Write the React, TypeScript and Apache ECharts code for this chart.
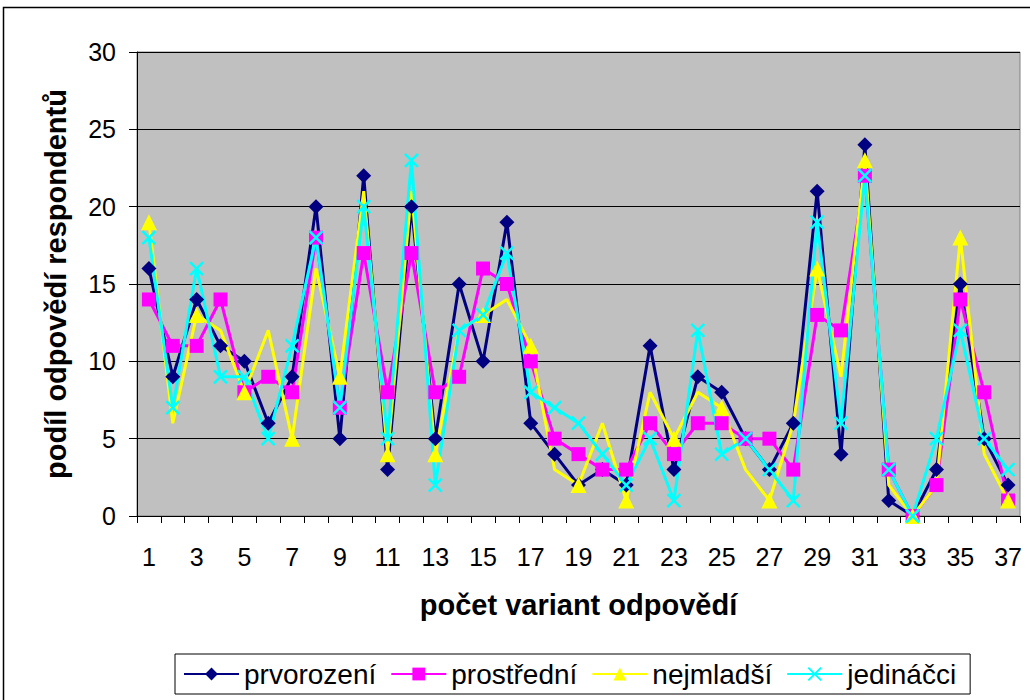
import React, { useEffect, useRef } from "react";
import * as echarts from "echarts";

const categories = Array.from({ length: 37 }, (_, i) => String(i + 1));
const prvorozeni = [16, 9, 14, 11, 10, 6, 9, 20, 5, 22, 3, 20, 5, 15, 10, 19, 6, 4, 2, 3, 2, 11, 3, 9, 8, 5, 3, 6, 21, 4, 24, 1, 0, 3, 15, 5, 2];
const prostredni = [14, 11, 11, 14, 8, 9, 8, 18, 7, 17, 8, 17, 8, 9, 16, 15, 10, 5, 4, 3, 3, 6, 4, 6, 6, 5, 5, 3, 13, 12, 22, 3, 0, 2, 14, 8, 1];
const nejmladsi = [19, 6, 13, 12, 8, 12, 5, 16, 9, 21, 4, 21, 4, 12, 13, 14, 11, 3, 2, 6, 1, 8, 5, 8, 7, 3, 1, 6, 16, 9, 23, 2, 0, 2, 18, 4, 1];
const jedinacci = [18, 7, 16, 9, 9, 5, 11, 18, 7, 20, 5, 23, 2, 12, 13, 17, 8, 7, 6, 4, 2, 5, 1, 12, 4, 5, 3, 1, 19, 6, 22, 3, 0, 5, 12, 5, 3];
const seriesNames = ["prvorození", "prostřední", "nejmladší", "jedináčci"];
const yTicks = [0, 5, 10, 15, 20, 25, 30];

const FONT = "Liberation Sans, Arial, sans-serif";

export default function App() {
  const ref = useRef<HTMLDivElement>(null);
  useEffect(() => {
    if (!ref.current) return;
    const chart = echarts.init(ref.current, null, { renderer: "svg" });
    const crossPath = "path://M0,0 L10,10 M10,0 L0,10";
    const mk = (name: string, data: number[], color: string, symbol: string, size: number, extra: any = {}) => ({
      name,
      type: "line",
      data,
      symbol,
      symbolSize: size,
      lineStyle: { color, width: 3 },
      itemStyle: { color, ...extra },
      emphasis: { disabled: true },
    });
    chart.setOption({
      animation: false,
      textStyle: { fontFamily: FONT },
      graphic: [
        {
          type: "rect",
          shape: { x: 3.5, y: 7.5, width: 1040, height: 700 },
          style: { fill: "none", stroke: "#000", lineWidth: 1.5 },
          silent: true,
        },
      ],
      grid: {
        left: 137,
        right: 10,
        top: 52,
        bottom: 184,
        show: true,
        backgroundColor: "#C0C0C0",
        borderColor: "#808080",
        borderWidth: 1,
      },
      xAxis: {
        type: "category",
        data: categories,
        boundaryGap: true,
        name: "počet variant odpovědí",
        nameLocation: "middle",
        nameGap: 74,
        nameTextStyle: { fontSize: 29, fontWeight: "bold", color: "#000", fontFamily: FONT },
        axisLine: { lineStyle: { color: "#000", width: 1 } },
        axisTick: { show: true, interval: 0, length: 7, lineStyle: { color: "#000" } },
        axisLabel: { interval: 1, fontSize: 25, color: "#000", margin: 28, fontFamily: FONT },
        splitLine: { show: false },
      },
      yAxis: {
        type: "value",
        min: yTicks[0],
        max: yTicks[yTicks.length - 1],
        interval: 5,
        name: "podíl odpovědí respondentů",
        nameLocation: "middle",
        nameGap: 67,
        nameTextStyle: { fontSize: 29, fontWeight: "bold", color: "#000", fontFamily: FONT },
        axisLine: { show: true, lineStyle: { color: "#000", width: 1 } },
        axisTick: { show: true, length: 8, lineStyle: { color: "#000" } },
        axisLabel: { fontSize: 25, color: "#000", margin: 21, fontFamily: FONT },
        splitLine: { show: true, lineStyle: { color: "#000", width: 1 } },
      },
      legend: {
        left: 175,
        top: 654,
        padding: [6, 14, 6, 8],
        borderColor: "#000",
        borderWidth: 1,
        backgroundColor: "#fff",
        itemWidth: 55,
        itemHeight: 16,
        itemGap: 14,
        textStyle: { fontSize: 28, color: "#000", fontFamily: FONT },
        data: seriesNames,
      },
      series: [
        mk(seriesNames[0], prvorozeni, "#000080", "diamond", 15),
        mk(seriesNames[1], prostredni, "#FF00FF", "rect", 14),
        mk(seriesNames[2], nejmladsi, "#FFFF00", "triangle", 16),
        mk(seriesNames[3], jedinacci, "#00FFFF", crossPath, 13, { borderColor: "#00FFFF", borderWidth: 2.5 }),
      ],
    });
    return () => chart.dispose();
  }, []);
  return <div ref={ref} style={{ position: "absolute", left: 0, top: 0, width: 1030, height: 700 }} />;
}
